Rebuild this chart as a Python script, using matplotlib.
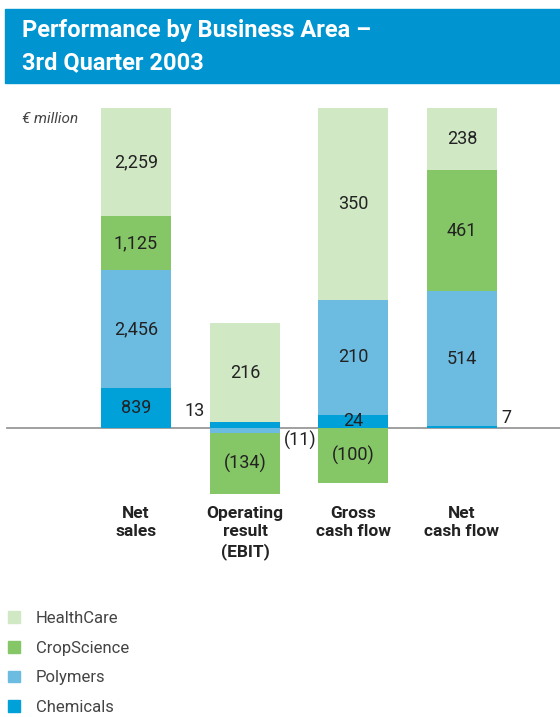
import matplotlib
matplotlib.use('Agg')
import matplotlib.pyplot as plt
from matplotlib.patches import Rectangle, Patch

# data, EUR million, 3rd quarter 2003
categories = ['Net\nsales', 'Operating\nresult\n(EBIT)', 'Gross\ncash flow', 'Net\ncash flow']
segments = ['Chemicals', 'Polymers', 'CropScience', 'HealthCare']
chemicals = [839, 13, 24, 7]
polymers = [2456, -11, 210, 514]
cropscience = [1125, -134, -100, 461]
healthcare = [2259, 216, 350, 238]
# value shown at the top of each column (each column has its own scale)
scale_top = [6679, 700, 584, 1220]

colors = {'HealthCare': '#d1e8c5', 'CropScience': '#85c666',
          'Polymers': '#6cbce2', 'Chemicals': '#00a0d8'}
# small segments labelled beside the column
outside = {(1, 'Chemicals'): 'left', (1, 'Polymers'): 'right', (3, 'Chemicals'): 'right'}

W, H = 560, 717
fig = plt.figure(figsize=(W / 100, H / 100), dpi=100)
plt.rcParams['font.family'] = ['Roboto', 'DejaVu Sans']

# title banner
fig.patches.append(Rectangle((5 / W, 1 - 83 / H), 1 - 5 / W, 74 / H,
                             transform=fig.transFigure, color='#0094d1', zorder=0))
fig.text(22 / W, 1 - 31 / H, 'Performance by Business Area –', color='white',
         fontsize=17, fontweight='bold', va='center', ha='left')
fig.text(22 / W, 1 - 63 / H, '3rd Quarter 2003', color='white',
         fontsize=17, fontweight='bold', va='center', ha='left')
fig.text(22 / W, 1 - 119 / H, '€ million', color='#444444', fontsize=11,
         style='italic', va='center', ha='left')

values = {'Chemicals': chemicals, 'Polymers': polymers,
          'CropScience': cropscience, 'HealthCare': healthcare}

top_px, base_px, bot_px = 108, 428, 500
bar_left = [101, 210, 318, 427]
bar_w = 70

def fmt(v):
    return '{:,}'.format(v) if v >= 0 else '({:,})'.format(-v)

for i, cat in enumerate(categories):
    ax = fig.add_axes([bar_left[i] / W, 1 - bot_px / H, bar_w / W, (bot_px - top_px) / H])
    ax.set_xlim(-0.5, 0.5)
    top = scale_top[i]
    ax.set_ylim(-top * (bot_px - base_px) / (base_px - top_px), top)
    ax.axis('off')
    pos, neg = 0, 0
    for seg in segments:
        v = values[seg][i]
        if v >= 0:
            bottom = pos
            pos += v
        else:
            bottom = neg
            neg += v
        ax.bar(0, v, width=1, bottom=bottom, color=colors[seg], linewidth=0)
        mid = bottom + v / 2
        side = outside.get((i, seg))
        if side == 'left':
            ax.annotate(fmt(v), (-0.5, 0), xytext=(-4, 12), textcoords='offset points',
                        ha='right', va='center', fontsize=13, color='#222222',
                        annotation_clip=False)
        elif side == 'right':
            off = -9 if v < 0 else 7
            ax.annotate(fmt(v), (0.5, 0), xytext=(3, off), textcoords='offset points',
                        ha='left', va='center', fontsize=13, color='#222222',
                        annotation_clip=False)
        else:
            ax.text(0, mid, fmt(v), ha='center', va='center', fontsize=13,
                    color='#222222')
    # category label below the column
    ax.text(0, -(506 - bot_px) / (bot_px - top_px), cat, transform=ax.get_xaxis_transform(),
            ha='center', va='top', fontsize=12.5, fontweight='bold', color='#222222',
            linespacing=1.28)
    if i == 0:
        ax.axhline(0, xmin=(7 - bar_left[0]) / bar_w, xmax=(W - bar_left[0]) / bar_w,
                   color='#999999', linewidth=1.3, clip_on=False, zorder=0)

legend_order = ['HealthCare', 'CropScience', 'Polymers', 'Chemicals']
handles = [Patch(color=colors[s]) for s in legend_order]
fig.legend(handles, legend_order,
           loc='upper left', bbox_to_anchor=(8 / W, 1 - 611 / H), frameon=False,
           borderpad=0, borderaxespad=0,
           fontsize=12, handlelength=0.72, handleheight=0.72, handletextpad=0.96,
           labelspacing=0.88, labelcolor='#444444')

fig.savefig('out.png', dpi=100)
